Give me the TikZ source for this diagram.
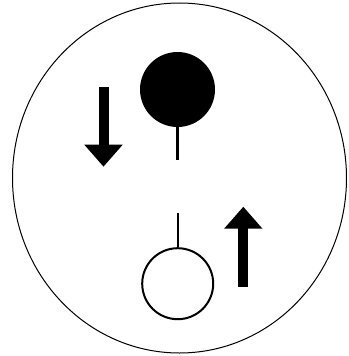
\documentclass[tikz,border=0pt]{standalone}
\usepackage{tikz}
\usetikzlibrary{positioning,arrows.meta,shapes.geometric}

\begin{document}
\begin{tikzpicture}[x=1pt, y=-1pt,
  cell/.style={ellipse, draw=black, line width=1pt, inner sep=0pt,
               minimum width=334pt, minimum height=350pt},
  ball/.style={circle, draw=black, line width=2pt, inner sep=0pt,
               minimum size=#1},
  stem/.style={line width=2.2pt},
  ar/.style={-{Triangle[width=37pt,length=22pt]}, line width=10pt, #1},
]
\useasboundingbox (0,0) rectangle (348,356);

\node[cell] (cell) at (179.5,178) {};

% top: filled ball, stem pointing down
\node[ball=73pt, fill=black] (full) at (177.5,89.5) {};
\coordinate (fulltail) at (177.5,160);
\draw[stem] (full.south) -- (fulltail);

% bottom: open ball, stem pointing up
\node[ball=71pt, fill=white] (empty) at (177.7,283.7) {};
\coordinate (emptytail) at (177.7,213.3);
\draw[stem] (empty.north) -- (emptytail);

% arrows
\coordinate (downfrom) at (103.5,87);
\coordinate (downto)   at (103.5,166.7);
\coordinate (upfrom)   at (243.3,286.7);
\coordinate (upto)     at (243.3,206.7);
\draw[ar=black] (downfrom) -- (downto);
\draw[ar=black] (upfrom) -- (upto);
\end{tikzpicture}
\end{document}
